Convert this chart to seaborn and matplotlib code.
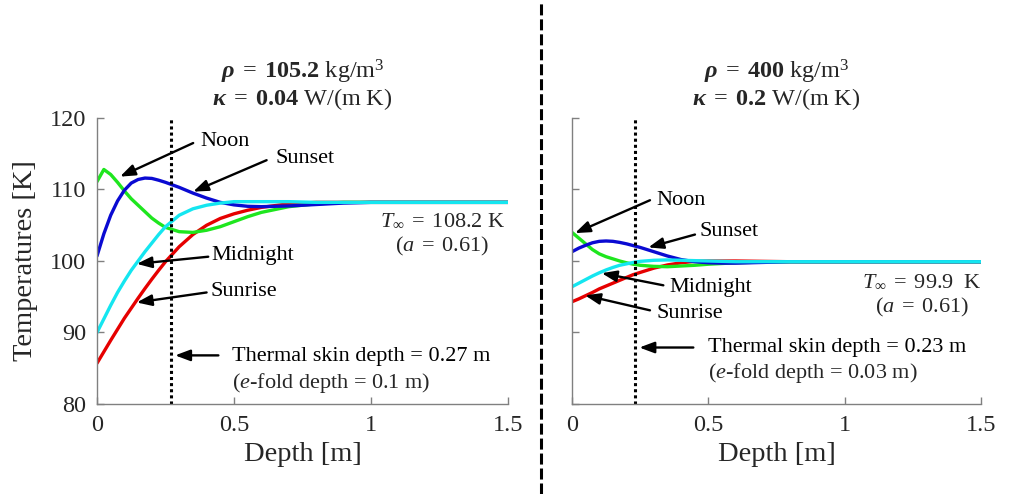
import numpy as np
import pandas as pd
import matplotlib
matplotlib.use("Agg")
import matplotlib.pyplot as plt
from matplotlib.lines import Line2D
import seaborn as sns

# ---------------- data ----------------
depth = [0, 0.025, 0.05, 0.075, 0.1, 0.125, 0.15, 0.175, 0.2, 0.225, 0.25,
         0.3, 0.35, 0.4, 0.45, 0.5, 0.55, 0.6, 0.7, 0.8, 0.9, 1.0, 1.25, 1.5]

# left panel: rho = 105.2 kg/m^3, kappa = 0.04 W/(m K)
noon_L = [111.1, 112.8, 112.1, 111.0, 109.8, 108.7, 107.8, 106.9, 106.0, 105.3, 104.7,
          104.1, 104.0, 104.3, 104.8, 105.5, 106.2, 106.8, 107.6, 108.0, 108.2, 108.2, 108.2, 108.2]
sunset_L = [100.7, 103.8, 106.4, 108.4, 109.9, 110.9, 111.4, 111.6, 111.55, 111.3, 111.0,
            110.3, 109.5, 108.8, 108.2, 107.85, 107.65, 107.6, 107.7, 107.9, 108.1, 108.2, 108.2, 108.2]
midnight_L = [90.0, 91.9, 93.8, 95.6, 97.2, 98.7, 100.0, 101.3, 102.5, 103.7, 104.8,
              106.4, 107.3, 107.8, 108.1, 108.3, 108.3, 108.3, 108.3, 108.2, 108.2, 108.2, 108.2, 108.2]
sunrise_L = [85.7, 87.3, 88.9, 90.45, 92.0, 93.4, 94.8, 96.15, 97.45, 98.7, 99.9,
             102.0, 103.7, 105.0, 105.95, 106.6, 107.1, 107.5, 108.0, 108.2, 108.2, 108.2, 108.2, 108.2]

# right panel: rho = 400 kg/m^3, kappa = 0.2 W/(m K)
noon_R = [104.0, 103.2, 102.4, 101.6, 101.0, 100.6, 100.3, 100.0, 99.75, 99.55, 99.4,
          99.25, 99.2, 99.3, 99.4, 99.55, 99.65, 99.75, 99.85, 99.9, 99.9, 99.9, 99.9, 99.9]
sunset_R = [101.3, 101.8, 102.2, 102.55, 102.75, 102.8, 102.75, 102.6, 102.4, 102.15, 101.9,
            101.3, 100.7, 100.2, 99.9, 99.75, 99.7, 99.7, 99.8, 99.9, 99.9, 99.9, 99.9, 99.9]
midnight_R = [96.4, 96.9, 97.4, 97.9, 98.35, 98.75, 99.1, 99.4, 99.6, 99.8, 99.95,
              100.1, 100.15, 100.1, 100.05, 100.0, 99.95, 99.9, 99.9, 99.9, 99.9, 99.9, 99.9, 99.9]
sunrise_R = [94.3, 94.7, 95.15, 95.6, 96.1, 96.5, 96.9, 97.3, 97.7, 98.1, 98.4,
             99.0, 99.45, 99.75, 99.95, 100.0, 100.0, 100.0, 99.95, 99.9, 99.9, 99.9, 99.9, 99.9]

times = ["Sunrise", "Noon", "Sunset", "Midnight"]
colors = {"Sunrise": "#e60000", "Noon": "#1ee61e", "Sunset": "#0a0ad2", "Midnight": "#14e6f0"}

skin_depth = [0.27, 0.23]
efold_depth = ["0.1", "0.03"]
t_inf = ["108.2", "99.9\\ "]
rho = ["105.2", "400"]
kappa = ["0.04", "0.2"]

xticks = [0, 0.5, 1, 1.5]
xticklabels = ["0", "0.5", "1", "1.5"]
yticks = [80, 90, 100, 110, 120]
yticklabels = ["80", "90", "100", "110", "120"]

# ---------------- style ----------------
sns.set_theme(style="white")
plt.rcParams["font.family"] = ["Liberation Serif", "DejaVu Serif"]
plt.rcParams["mathtext.fontset"] = "custom"
plt.rcParams["mathtext.rm"] = "Liberation Serif"
plt.rcParams["mathtext.it"] = "Liberation Serif:italic"
plt.rcParams["mathtext.bf"] = "Liberation Serif:bold"
plt.rcParams["mathtext.bfit"] = "Liberation Serif:italic:bold"

def frame(series_vals):
    rows = []
    for name, vals in series_vals.items():
        for d, v in zip(depth, vals):
            rows.append({"depth": d, "temp": v, "time": name})
    return pd.DataFrame(rows)

dfL = frame({"Sunrise": sunrise_L, "Noon": noon_L, "Sunset": sunset_L, "Midnight": midnight_L})
dfR = frame({"Sunrise": sunrise_R, "Noon": noon_R, "Sunset": sunset_R, "Midnight": midnight_R})

fig = plt.figure(figsize=(10.14, 4.94), dpi=100)
W, H = 1014, 494
axL = fig.add_axes([97 / W, 90 / H, 411 / W, 286 / H])
axR = fig.add_axes([572 / W, 90 / H, 409 / W, 286 / H])

tick_fs = 17.5
ann_fs = 16
gray = "#808080"

for i, (ax, df) in enumerate([(axL, dfL), (axR, dfR)]):
    sns.lineplot(data=df, x="depth", y="temp", hue="time", hue_order=times,
                 palette=colors, linewidth=2.4, legend=False, sort=False,
                 estimator=None, ax=ax)
    ax.axvline(skin_depth[i], color="black", linestyle=(0, (1, 1)), linewidth=2.2)
    ax.set_xlim(0, 1.5)
    ax.set_ylim(80, 120)
    ax.set_xticks(xticks)
    ax.set_xticklabels(xticklabels)
    ax.set_yticks(yticks)
    if i == 0:
        ax.set_yticklabels(yticklabels)
        ax.set_ylabel("Temperatures [K]", fontsize=20.5, color="#262626", labelpad=8)
    else:
        ax.set_yticklabels([])
        ax.set_ylabel("")
    ax.set_xlabel("Depth [m]", fontsize=20.5, color="#262626", labelpad=4)
    for s in ["top", "right"]:
        ax.spines[s].set_visible(False)
    for s in ["left", "bottom"]:
        ax.spines[s].set_color(gray)
        ax.spines[s].set_linewidth(1.0)
    ax.tick_params(direction="in", length=5, width=1, color=gray,
                   labelsize=tick_fs, labelcolor="#262626", pad=8,
                   left=True, bottom=True)
    ax.set_title(r"$\mathbfit{\rho}\;=\;\mathbf{" + rho[i] + r"}\ \mathrm{kg/m^3}$" + "\n"
                 + r"$\mathbfit{\kappa}\;=\;\mathbf{" + kappa[i] + r"}\ \mathrm{W/(m\ K)}$",
                 fontsize=17.5, pad=9, linespacing=1.05)

arrow = dict(arrowstyle="-|>,head_length=0.75,head_width=0.28", color="black",
             lw=1.7, shrinkA=0, shrinkB=0)

def label(ax, text, txy, tail, head):
    ax.annotate("", xy=head, xytext=tail, arrowprops=arrow)
    ax.text(txy[0], txy[1], text, fontsize=ann_fs, ha="left", va="center", color="black")

# left panel annotations
label(axL, "Noon", (0.376, 116.7), (0.351, 116.5), (0.084, 111.8))
label(axL, "Sunset", (0.650, 114.4), (0.619, 114.1), (0.351, 109.7))
label(axL, "Midnight", (0.419, 100.8), (0.406, 100.6), (0.145, 99.6))
label(axL, "Sunrise", (0.415, 95.7), (0.400, 95.6), (0.145, 94.2))
label(axL, "Thermal skin depth = " + str(skin_depth[0]) + " m", (0.492, 86.7), (0.443, 86.8), (0.285, 86.8))
axL.text(0.492, 83.0, r"($e$-fold depth = " + efold_depth[0] + " m)", fontsize=ann_fs, ha="left", va="center")
axL.text(1.489, 105.7, r"$T_{\infty}\;=\;" + t_inf[0] + r"\ \mathrm{K}$", fontsize=ann_fs, ha="right", va="center")
axL.text(1.258, 102.0, r"$(a\;=\;0.61)$", fontsize=ann_fs, ha="center", va="center")

# right panel annotations
label(axR, "Noon", (0.311, 108.5), (0.286, 108.5), (0.011, 103.9))
label(axR, "Sunset", (0.467, 104.1), (0.451, 103.7), (0.280, 101.9))
label(axR, "Midnight", (0.357, 96.3), (0.335, 96.6), (0.109, 98.3))
label(axR, "Sunrise", (0.311, 92.7), (0.286, 93.1), (0.048, 95.2))
label(axR, "Thermal skin depth = " + str(skin_depth[1]) + " m", (0.500, 87.9), (0.445, 87.9), (0.247, 87.9))
axR.text(0.500, 84.3, r"($e$-fold depth = " + efold_depth[1] + " m)", fontsize=ann_fs, ha="left", va="center")
axR.text(1.502, 97.1, r"$T_{\infty}\;=\;" + t_inf[1] + r"\ \mathrm{K}$", fontsize=ann_fs, ha="right", va="center")
axR.text(1.282, 93.5, r"$(a\;=\;0.61)$", fontsize=ann_fs, ha="center", va="center")

# dashed divider between panels
fig.add_artist(Line2D([541 / W, 541 / W], [0, 1], transform=fig.transFigure,
                      color="black", linewidth=2.2, linestyle=(0, (3.6, 1.3))))

fig.savefig("out.png", dpi=100)
